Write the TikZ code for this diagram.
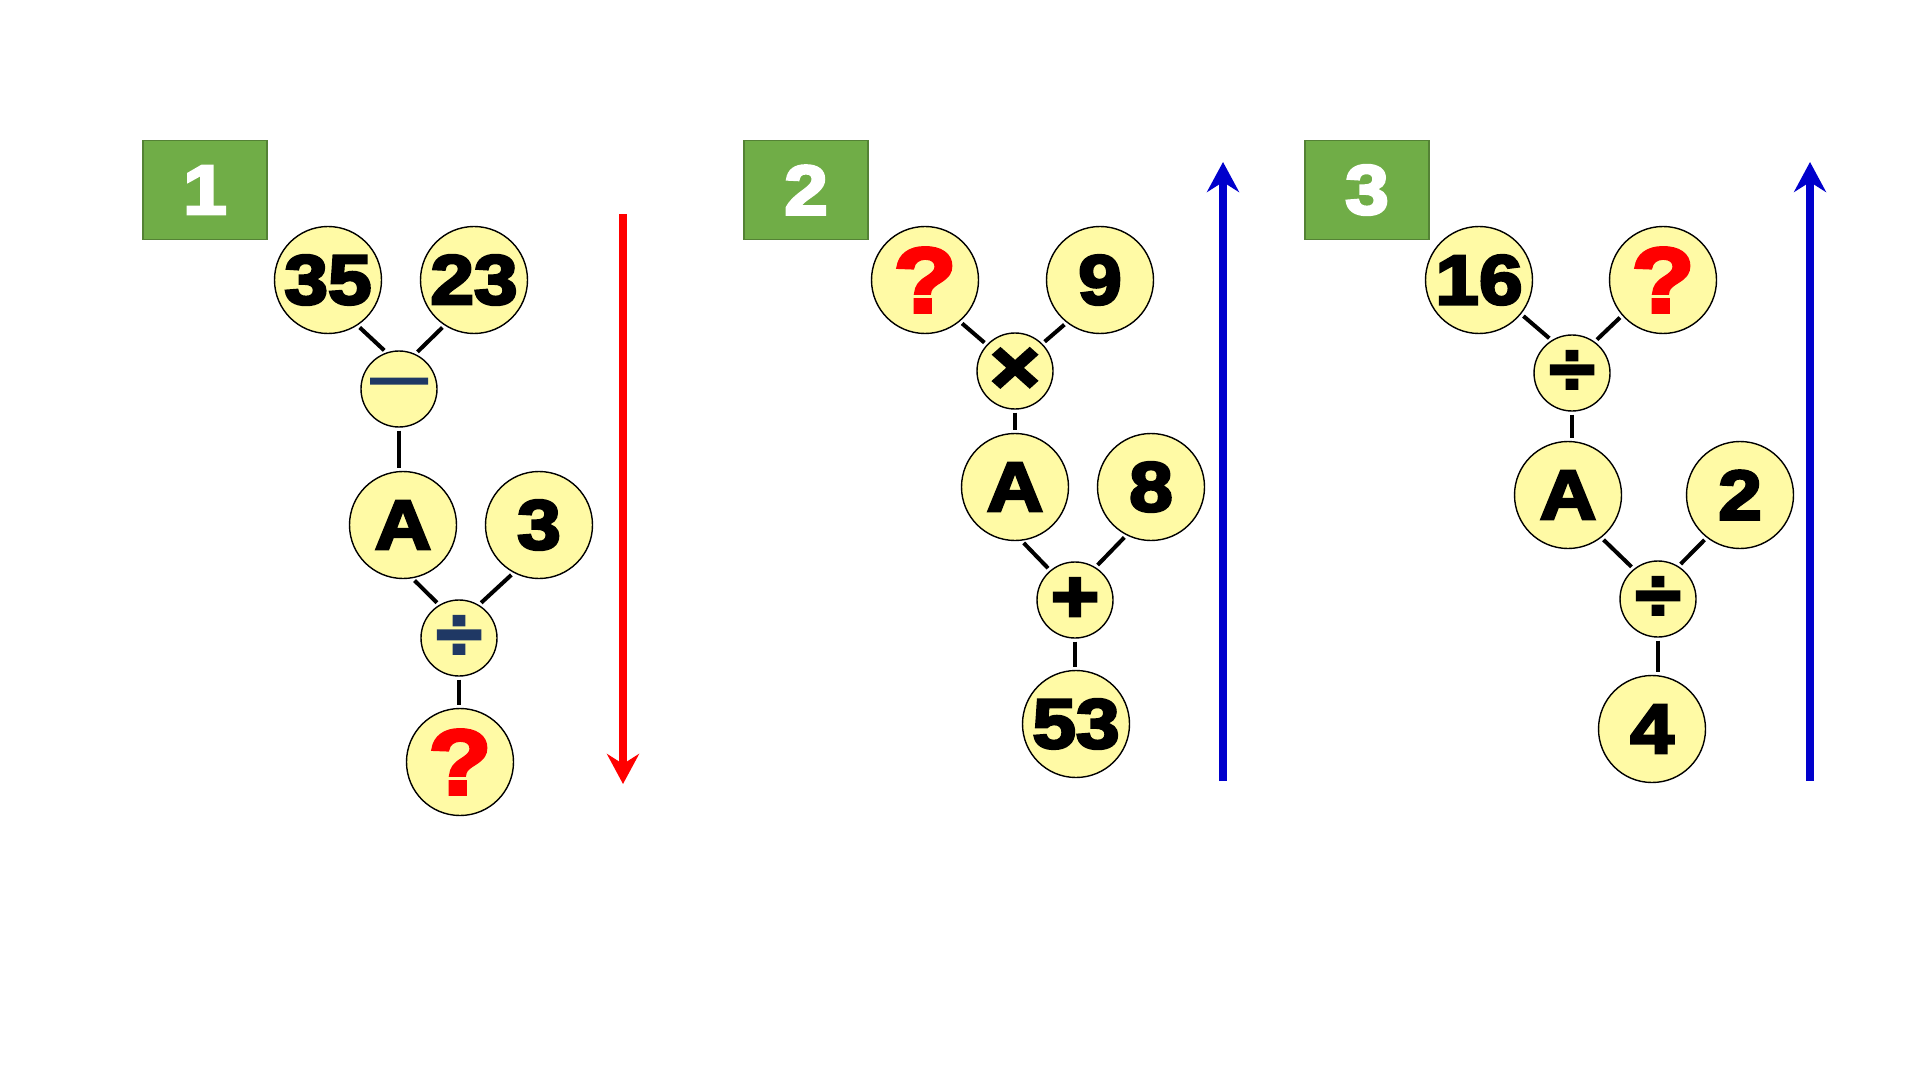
\documentclass[tikz,border=0pt]{standalone}
\usepackage{fontspec}
\setmainfont{Liberation Sans}
\newfontfamily\heavy{Liberation Sans}[BoldFeatures={FakeBold=4,FakeStretch=1.12}]
\usetikzlibrary{arrows.meta}
\definecolor{ly}{RGB}{255,250,165}
\definecolor{gbox}{RGB}{112,173,71}
\definecolor{gedge}{RGB}{84,130,53}
\definecolor{navy}{RGB}{31,56,100}
\definecolor{arrblue}{RGB}{0,0,204}
\begin{document}
\begin{tikzpicture}[x=0.5pt,y=-0.5pt,
  num/.style={circle,draw=black,line width=0.7pt,fill=ly,minimum size=53.5pt,inner sep=0pt,
    font=\heavy\bfseries\fontsize{35}{35}\selectfont},
  opn/.style={circle,draw=black,line width=0.7pt,fill=ly,minimum size=38pt,inner sep=0pt,
    font=\heavy\bfseries\fontsize{37}{37}\selectfont},
  qm/.style={num,text=red,font=\heavy\bfseries\fontsize{46}{46}\selectfont},
  tag/.style={rectangle,draw=gedge,line width=0.6pt,fill=gbox,minimum width=62pt,minimum height=49.5pt,
    inner sep=0pt,text=white,font=\heavy\bfseries\fontsize{35}{35}\selectfont},
  link/.style={line width=2pt,shorten <=1.5pt,shorten >=1.5pt},
  flow/.style={line width=4pt,-{Stealth[length=15pt,width=16pt,inset=5pt]}}]
\fill[white] (0,0) rectangle (1920,1080);
\useasboundingbox (0,0) rectangle (1920,1080);

% ---------- panel 1 ----------
\node[tag] (t1) at (205,190) {1};
\node[num] (a35) at (328,280) {35};
\node[num] (a23) at (474,280) {23};
\node[opn,text=navy,font=\heavy\bfseries\fontsize{25}{25}\selectfont,text height=0.56em,text depth=0pt] (m1) at (399,389) {—};
\node[num] (aA) at (403,525) {A};
\node[num] (a3) at (539,525) {3};
\node[opn,text=navy] (d1) at (459,638) {÷};
\node[qm] (q1) at (460,762) {?};
\draw[link] (a35.-57) -- (m1.109);
\draw[link] (a23.-123) -- (m1.65);
\draw[link] (m1.south) -- (m1.south |- aA.north);
\draw[link] (aA.-80) -- (d1.121);
\draw[link] (a3.-118) -- (d1.59);
\draw[link] (d1.south) -- (d1.south |- q1.north);
\coordinate (r1s) at (623,214);
\coordinate (r1e) at (623,784);
\draw[flow,red] (r1s) -- (r1e);

% ---------- panel 2 ----------
\node[tag] (t2) at (806,190) {2};
\node[qm] (q2) at (925,280) {?};
\node[num] (b9) at (1100,280) {9};
\node[opn,font=\heavy\bfseries\fontsize{38}{38}\selectfont] (x2) at (1015,371) {×};
\node[num] (bA) at (1015,487) {A};
\node[num] (b8) at (1151,487) {8};
\node[opn] (p2) at (1075,600) {+};
\node[num] (b53) at (1076,724) {53};
\draw[link] (q2.-50) -- (x2.137);
\draw[link] (b9.-128) -- (x2.45);
\draw[link] (x2.south) -- (bA.north);
\draw[link] (bA.-83) -- (p2.130);
\draw[link] (b8.-117) -- (p2.58);
\draw[link] (p2.south) -- (p2.south |- b53.north);
\coordinate (r2s) at (1223,781);
\coordinate (r2e) at (1223,162);
\draw[flow,arrblue] (r2s) -- (r2e);

% ---------- panel 3 ----------
\node[tag] (t3) at (1367,190) {3};
\node[num] (c16) at (1479,280) {16};
\node[qm] (q3) at (1663,280) {?};
\node[opn] (d3a) at (1572,373) {÷};
\node[num] (cA) at (1568,495) {A};
\node[num] (c2) at (1740,495) {2};
\node[opn] (d3b) at (1658,599) {÷};
\node[num] (c4) at (1652,729) {4};
\draw[link] (c16.-39) -- (d3a.122);
\draw[link] (q3.-139) -- (d3a.54);
\draw[link] (d3a.south) -- (d3a.south |- cA.north);
\draw[link] (cA.-52) -- (d3b.129);
\draw[link] (c2.-128) -- (d3b.58);
\draw[link] (d3b.south) -- (d3b.south |- c4.north);
\coordinate (r3s) at (1810,781);
\coordinate (r3e) at (1810,162);
\draw[flow,arrblue] (r3s) -- (r3e);
\end{tikzpicture}
\end{document}
